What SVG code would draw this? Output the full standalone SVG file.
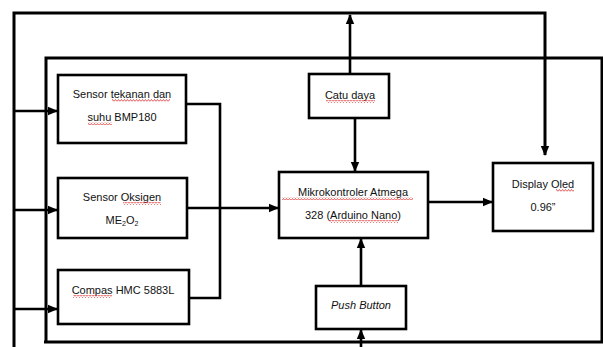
<svg xmlns="http://www.w3.org/2000/svg" width="603" height="347" viewBox="0 0 603 347">
<style>
.box{fill:#fff;stroke:#000;stroke-width:2.6}
.ln{fill:none;stroke:#000;stroke-width:2.6}
.fr{fill:none;stroke:#000;stroke-width:3}
.t{font-family:"Liberation Sans",Arial,sans-serif;font-size:11px;fill:#111;text-anchor:middle}
.sq{fill:url(#squig)}
</style>
<defs>
<marker id="ah" markerUnits="userSpaceOnUse" markerWidth="10" markerHeight="10" refX="9" refY="5" orient="auto">
<path d="M0,0.8 L10,5 L0,9.2 Z" fill="#000"/>
</marker>
<pattern id="squig" patternUnits="userSpaceOnUse" width="3" height="3">
<path d="M0,2.5 L1.5,0.5 L3,2.5" fill="none" stroke="#e03030" stroke-width="0.8"/>
</pattern>
</defs>
<rect width="603" height="347" fill="#fff"/>
<g id="connectors">
<path class="fr" d="M14,347 L14,13 L545,13 L545,155" marker-end="url(#ah)"/>
<path class="fr" d="M46,342 L46,58 L602,58 L602,342 L44,342"/>
<path class="ln" d="M350,74 L350,15" marker-end="url(#ah)"/>
<path class="ln" d="M14,111 L57,111" marker-end="url(#ah)"/>
<path class="ln" d="M14,210 L57,210" marker-end="url(#ah)"/>
<path class="ln" d="M14,309 L57,309" marker-end="url(#ah)"/>
<path class="ln" d="M186,104 L220,104 L220,298 L189,298"/>
<path class="ln" d="M187,208 L278,208" marker-end="url(#ah)"/>
<path class="ln" d="M355,118 L355,171" marker-end="url(#ah)"/>
<path class="ln" d="M428,202 L492,202" marker-end="url(#ah)"/>
<path class="ln" d="M361,286 L361,239" marker-end="url(#ah)"/>
<path class="ln" d="M361,347 L361,330" marker-end="url(#ah)"/>
</g>
<g id="sensor-bmp180">
<rect class="box" x="58" y="75" width="128" height="68"/>
<text class="t" x="122" y="98">Sensor tekanan dan</text>
<text class="t" x="122" y="121">suhu BMP180</text>
<rect class="sq" x="112" y="99" width="58" height="3"/>
<rect class="sq" x="88" y="122" width="24" height="3"/>
</g>
<g id="sensor-oksigen">
<rect class="box" x="58" y="178" width="129" height="60"/>
<text class="t" x="122" y="201">Sensor Oksigen</text>
<text class="t" x="122" y="224">ME<tspan font-size="7" dy="2">2</tspan><tspan dy="-2">O</tspan><tspan font-size="7" dy="2">2</tspan></text>
<rect class="sq" x="123" y="202" width="38" height="3"/>
</g>
<g id="compas">
<rect class="box" x="58" y="270" width="131" height="54"/>
<text class="t" x="123" y="294">Compas HMC 5883L</text>
<rect class="sq" x="73" y="295" width="39" height="3"/>
</g>
<g id="catu-daya">
<rect class="box" x="309" y="74" width="80" height="44"/>
<text class="t" x="350" y="99">Catu daya</text>
<rect class="sq" x="326" y="100" width="49" height="3"/>
</g>
<g id="mikrokontroler">
<rect class="box" x="279" y="172" width="149" height="66"/>
<text class="t" x="353" y="196">Mikrokontroler Atmega</text>
<text class="t" x="353" y="219">328 (Arduino Nano)</text>
<rect class="sq" x="282" y="197" width="131" height="3"/>
<rect class="sq" x="329" y="220" width="69" height="3"/>
</g>
<g id="display-oled">
<rect class="box" x="493" y="163" width="100" height="68"/>
<text class="t" x="543" y="188">Display Oled</text>
<text class="t" x="543" y="211">0.96”</text>
<rect class="sq" x="556" y="189" width="18" height="3"/>
</g>
<g id="push-button">
<rect class="box" x="316" y="286" width="90" height="43"/>
<text class="t" x="361" y="309" font-style="italic">Push Button</text>
</g>
</svg>
